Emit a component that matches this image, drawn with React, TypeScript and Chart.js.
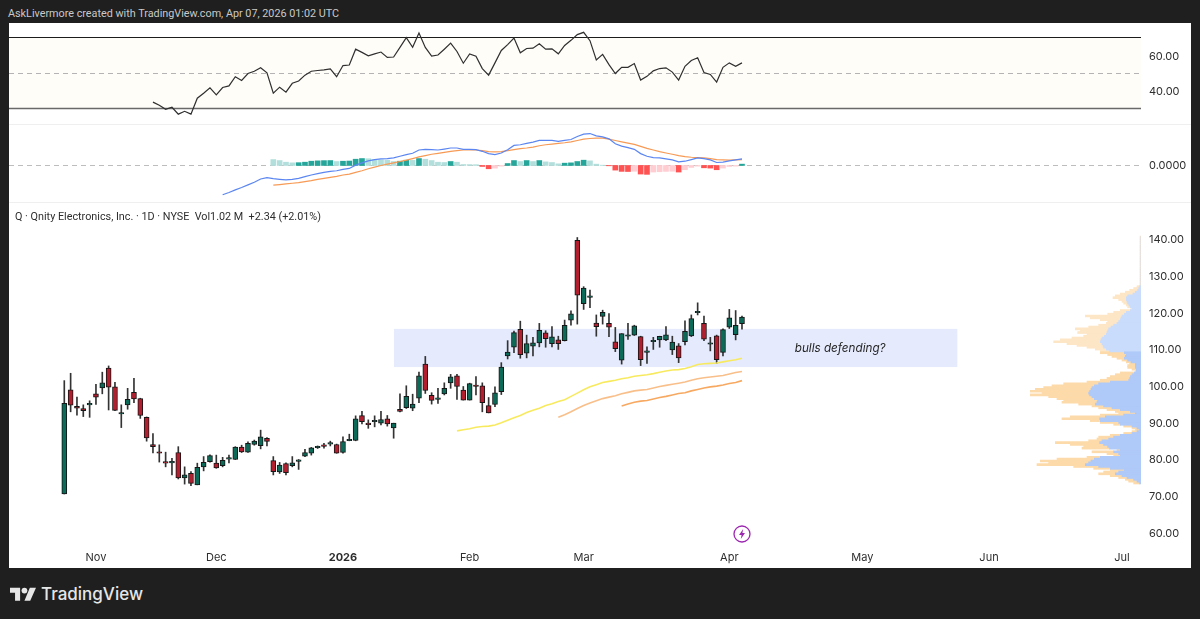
import { Chart, registerables } from "chart.js";
import { useEffect, useRef } from "react";

Chart.register(...registerables);

// Daily candles
const opens = [70.5,98.9,94.4,93.8,94.8,97.8,99.4,104.8,99.7,92.3,94.8,98.2,96.5,91.4,84.0,81.8,79.3,79.0,81.8,74.9,76.1,73.0,77.9,79.3,78.9,78.2,80.0,79.9,83.3,81.9,84.0,83.7,85.7,79.6,76.5,78.8,78.2,79.4,80.8,81.6,83.1,83.8,84.1,84.0,81.8,85.0,85.1,91.9,89.8,90.2,89.8,91.0,88.5,93.6,94.0,93.9,96.6,105.9,97.4,96.3,97.8,100.8,102.7,98.8,96.1,100.2,100.0,94.6,94.9,98.4,108.1,110.5,115.4,108.9,110.8,111.7,114.4,111.5,112.5,112.3,117.9,139.6,122.4,124.1,117.1,118.9,117.0,112.0,107.0,113.5,113.8,113.4,109.1,112.0,112.5,112.5,109.8,110.9,112.0,113.6,119.9,117.0,111.3,113.6,109.1,116.0,113.9,116.9];
const highs = [101.4,103.4,96.9,94.8,95.9,100.4,103.7,105.4,100.9,94.8,99.3,102.0,96.6,91.5,87.0,83.9,81.9,80.2,83.4,77.9,76.6,78.9,80.7,81.2,81.1,80.5,81.1,83.4,83.8,84.7,85.2,87.9,85.9,80.7,79.1,79.0,80.7,79.9,82.7,83.2,83.6,84.3,84.9,84.1,86.1,86.8,91.8,93.0,90.7,91.8,93.0,91.9,89.8,97.8,100.0,97.7,103.7,108.0,98.1,99.3,100.8,103.1,103.1,99.8,100.7,102.5,100.8,96.8,99.7,106.3,112.3,114.9,117.6,113.8,113.2,117.0,115.0,116.1,113.5,117.9,120.4,140.4,127.0,126.1,119.3,120.6,119.7,115.9,114.2,117.0,116.5,113.5,110.6,113.2,113.5,116.1,113.5,111.5,117.7,119.3,122.6,119.0,113.2,113.8,115.5,120.8,120.5,119.0];
const lows = [70.5,92.9,92.0,91.6,91.4,94.9,97.8,93.4,93.2,88.6,93.6,95.4,91.1,84.9,81.7,79.2,77.9,75.7,74.6,73.2,72.8,73.0,76.8,79.2,77.5,77.9,79.0,79.9,81.8,81.8,83.8,82.8,83.6,75.7,76.1,75.7,77.9,77.2,80.7,81.1,82.9,83.0,83.6,81.6,81.6,85.0,85.0,89.6,88.4,88.8,89.3,89.0,85.7,92.9,93.8,93.2,95.4,97.9,95.0,95.2,97.5,99.3,96.3,96.1,96.1,97.5,92.9,92.6,94.3,97.6,107.3,109.0,107.5,107.6,108.1,110.6,110.5,110.6,109.9,112.2,116.5,116.8,120.8,121.3,113.5,116.8,113.4,109.3,105.9,112.6,113.7,105.5,106.1,109.9,110.5,112.3,108.5,106.3,111.1,113.4,119.3,112.3,109.5,106.1,108.1,115.6,112.5,115.4];
const closes = [95.2,94.7,93.9,93.2,95.0,96.9,100.8,99.6,93.3,92.5,96.3,96.4,91.9,85.8,83.4,81.6,78.9,79.4,74.9,75.7,73.4,77.8,79.1,81.0,77.6,79.7,80.4,83.3,82.0,84.3,84.9,86.1,84.8,76.6,78.4,76.3,79.0,79.7,81.8,83.1,83.4,83.5,84.3,81.6,84.8,85.2,91.0,90.2,89.4,90.5,90.8,89.6,89.8,93.0,97.1,95.0,102.7,98.7,96.0,96.6,99.3,102.4,99.8,96.1,100.6,99.8,95.4,92.6,98.1,105.1,109.2,114.5,108.5,111.5,111.7,115.1,112.8,113.3,111.5,116.5,119.6,124.7,126.6,124.4,116.1,120.0,116.0,110.1,114.2,113.9,116.3,107.1,109.3,112.3,113.5,113.9,111.9,107.6,114.8,118.3,120.2,112.7,111.6,107.1,115.3,118.5,116.5,118.7];

// Moving averages, first value sits on bar maFastStart etc.
const maFastStart = 62;
const maFast = [87.7,88.0,88.3,88.7,88.9,89.0,89.3,89.9,90.6,91.3,91.9,92.7,93.3,93.9,94.6,95.1,95.7,96.2,97.1,98.0,98.9,99.7,100.3,100.9,101.2,101.5,101.9,102.2,102.6,102.8,103.0,103.3,103.7,104.0,104.3,104.4,104.7,105.2,105.8,106.0,106.1,106.2,106.5,106.8,107.1,107.5];
const maMidStart = 78;
const maMid = [91.4,92.1,92.9,93.8,94.6,95.3,95.9,96.5,96.9,97.3,97.8,98.2,98.6,98.8,99.0,99.4,99.8,100.1,100.4,100.7,101.0,101.5,101.9,102.2,102.4,102.6,102.8,103.2,103.6,103.9];
const maSlowStart = 88;
const maSlow = [94.5,95.0,95.5,95.8,96.0,96.4,96.8,97.1,97.5,97.9,98.1,98.6,99.0,99.4,99.7,99.9,100.2,100.6,100.9,101.4];

const rsiStart = 14;
const rsi = [33.5,31.7,29.4,30.6,26.7,28.3,26.7,35.7,38.5,41.5,37.6,41.7,42.6,47.8,45.7,49.6,50.9,52.8,50.0,38.5,41.9,39.1,44.1,45.4,48.7,50.9,51.3,51.7,52.2,47.8,54.1,54.4,63.3,61.5,59.6,60.7,61.7,58.7,58.9,64.3,69.8,64.4,72.4,64.3,59.4,60.0,63.3,66.7,62.0,55.4,60.6,59.3,52.4,48.7,55.6,62.6,65.9,69.6,61.3,63.7,63.9,66.3,63.3,63.5,60.7,65.4,68.3,71.5,72.8,68.1,57.2,60.4,54.6,49.6,53.1,53.1,55.2,45.9,48.0,51.1,52.4,52.8,50.4,45.9,53.7,56.9,58.5,50.2,49.1,44.8,53.1,55.6,53.7,55.6];

const macdStart = 25;
const macd = [-6.59,-6.07,-5.48,-4.96,-4.37,-3.78,-3.04,-2.74,-2.96,-3.11,-3.26,-3.11,-2.89,-2.52,-2.15,-1.85,-1.56,-1.33,-1.19,-0.89,-0.67,0.07,0.59,1.04,1.33,1.48,1.56,1.70,2.07,2.44,2.74,3.48,3.63,3.56,3.48,3.70,3.93,3.93,3.63,3.63,3.56,3.19,2.67,2.44,2.81,3.56,4.52,4.67,4.96,5.26,5.63,5.63,5.63,5.41,5.63,5.85,6.52,7.04,7.19,6.67,6.44,6.00,4.89,4.37,4.00,3.63,2.67,2.07,1.78,1.70,1.48,1.26,0.81,0.96,1.33,1.70,1.56,1.26,0.67,0.74,1.04,1.26,1.48];
const signalStart = 33;
const signal = [-4.44,-4.30,-4.15,-4.00,-3.85,-3.63,-3.41,-3.11,-2.89,-2.67,-2.44,-2.15,-1.93,-1.56,-1.19,-0.74,-0.37,0.00,0.30,0.59,0.89,1.19,1.56,1.93,2.22,2.52,2.74,2.96,3.19,3.33,3.48,3.48,3.48,3.33,3.11,3.04,3.11,3.33,3.56,3.78,3.93,4.15,4.44,4.67,4.81,4.96,5.11,5.33,5.63,5.93,6.07,6.15,6.15,5.93,5.63,5.33,5.04,4.74,4.30,3.85,3.48,3.11,2.81,2.52,2.22,2.00,1.85,1.78,1.70,1.56,1.33,1.26,1.19,1.26,1.33];
const histogram = [1.33,1.11,0.74,0.59,0.63,0.74,0.96,1.04,1.09,1.11,0.89,0.96,1.00,1.41,1.56,1.52,1.30,1.26,1.19,0.89,0.96,1.19,1.15,1.56,1.41,1.11,0.74,0.67,0.89,0.74,0.22,0.20,0.18,-0.22,-0.74,-0.60,-0.15,0.44,1.11,0.89,1.11,0.89,1.11,0.81,0.67,0.37,0.52,0.59,0.89,1.19,1.04,0.30,0.07,-0.07,-1.04,-1.33,-1.36,-1.30,-1.93,-2.00,-1.48,-1.41,-1.33,-1.30,-1.48,-0.96,-0.44,-0.15,-0.52,-0.59,-0.96,-0.59,-0.22,-0.15,0.30];

// Volume profile rows, top row first, half a dollar apart
const profileTop = 140.5;
const profileStep = 0.5;
const profileUp = [0,0,0,0,0,0,0,0,0,0,0,0,0,0,0,0,0,0,0,0,0,0,0,0,0,0,0,4,7,10,17,24,40,44,44,42,40,36,32,26,32,44,50,57,60,62,67,72,82,90,97,100,102,104,110,117,120,122,117,114,112,104,94,50,44,47,50,40,30,17,17,17,14,14,20,27,32,34,37,92,127,140,147,150,154,157,154,147,140,130,132,137,112,87,62,32,17,52,107,124,122,67,62,27,12,4,12,27,62,82,97,117,124,112,100,94,62,82,67,62,122,140,150,157,167,127,92,50,67,77,57,42,22,12,4];
const profileDown = [3,3,3,3,3,3,3,3,3,3,3,3,3,3,3,3,3,3,3,3,3,3,3,3,3,3,3,8,15,24,30,38,37,40,23,15,12,8,8,4,30,38,50,110,92,60,33,32,45,67,100,82,88,58,62,90,122,140,105,78,50,33,28,72,56,40,22,17,14,17,23,23,13,3,42,50,60,68,85,70,105,127,145,167,178,140,178,130,112,102,105,50,35,40,40,45,50,70,105,113,30,55,20,25,15,13,15,25,30,45,35,40,133,100,72,83,10,65,35,20,40,112,152,120,145,75,50,42,45,50,35,25,25,25,18];

const rsiTicks = [40, 60];
const macdTicks = [0];
const priceTicks = [60, 70, 80, 90, 100, 110, 120, 130, 140];
const monthTickBars = [5, 24, 44, 64, 82, 105, 126, 146, 167];
const monthTickLabels = ["Nov", "Dec", "2026", "Feb", "Mar", "Apr", "May", "Jun", "Jul"];

const FONT = "Inter, 'Noto Sans', sans-serif";
const TEXT = "#2e2e2e";
const X_MIN = -8.73;
const X_MAX = 170;

const series = (start: number, values: number[]) => values.map((y, i) => ({ x: start + i, y }));

const hiddenX = { type: "linear", display: false, min: X_MIN, max: X_MAX, offset: false };

function rightAxis(min: number, max: number, ticks: number[], digits: number, labelOffset = 0) {
    return {
        type: "linear",
        position: "right",
        min,
        max,
        border: { display: false },
        grid: { display: false, drawTicks: false },
        afterBuildTicks: (scale: any) => { scale.ticks = ticks.map((value) => ({ value })); },
        afterFit: (scale: any) => {
            scale.width = 50;
            // chart.js keeps room for the outer tick labels, we want the plot edge to edge
            scale.paddingTop = 0;
            scale.paddingBottom = 0;
        },
        ticks: {
            padding: 8,
            labelOffset,
            color: TEXT,
            font: { family: FONT, size: 11 },
            callback: (v: number) => v.toFixed(digits),
        },
    };
}

const baseOptions = {
    responsive: false,
    animation: false,
    events: [],
    layout: { padding: 0 },
    plugins: { legend: { display: false }, tooltip: { enabled: false } },
};

function hLine(chart: any, value: number, color: string, width: number, dash: number[] = []) {
    const { ctx, chartArea, scales } = chart;
    const y = Math.round(scales.y.getPixelForValue(value)) + 0.5;
    ctx.save();
    ctx.strokeStyle = color;
    ctx.lineWidth = width;
    ctx.setLineDash(dash);
    ctx.beginPath();
    ctx.moveTo(chartArea.left, y);
    ctx.lineTo(chartArea.right, y);
    ctx.stroke();
    ctx.restore();
}

const rsiBands = {
    id: "rsiBands",
    beforeDatasetsDraw(chart: any) {
        const { ctx, chartArea, scales } = chart;
        const top = scales.y.getPixelForValue(70);
        const bottom = scales.y.getPixelForValue(30);
        ctx.fillStyle = "#fffdf8";
        ctx.fillRect(chartArea.left, top, chartArea.right - chartArea.left, bottom - top);
        hLine(chart, 70, "#1c1c1c", 1);
        hLine(chart, 50, "#b4b4b4", 1, [5, 4]);
        hLine(chart, 30, "#696969", 1.5);
    },
};

const macdZero = {
    id: "macdZero",
    beforeDatasetsDraw(chart: any) {
        hLine(chart, 0, "#bdbdbd", 1, [5, 4]);
    },
};

const defendZone = {
    id: "defendZone",
    beforeDatasetsDraw(chart: any) {
        const { ctx, scales } = chart;
        const left = scales.x.getPixelForValue(52.05);
        const right = scales.x.getPixelForValue(141);
        const top = scales.y.getPixelForValue(115.5);
        const bottom = scales.y.getPixelForValue(105.1);
        ctx.fillStyle = "#e5eafc";
        ctx.fillRect(left, top, right - left, bottom - top);
        ctx.fillStyle = "#1f1f1f";
        ctx.font = `italic 11.7px ${FONT}`;
        ctx.textAlign = "center";
        ctx.textBaseline = "middle";
        ctx.fillText("bulls defending?", scales.x.getPixelForValue(122.5), scales.y.getPixelForValue(110.2));
    },
};

const rsiConfig: any = {
    type: "line",
    data: {
        datasets: [{
            data: series(rsiStart, rsi),
            borderColor: "#2f2f2f",
            borderWidth: 1.2,
            pointRadius: 0,
            tension: 0,
        }],
    },
    options: {
        ...baseOptions,
        scales: { x: hiddenX, y: rightAxis(21.16, 78.06, rsiTicks, 2, 1.5) },
    },
    plugins: [rsiBands],
};

function histColor(v: number, i: number) {
    const prev = i > 0 ? histogram[i - 1] : v + 1;
    if (v >= 0) return v > prev ? "#26a69a" : "#b2dfdb";
    return v < prev ? "#ff5252" : "#ffcdd2";
}

const macdConfig: any = {
    type: "bar",
    data: {
        datasets: [
            {
                type: "line",
                data: series(macdStart, macd),
                borderColor: "#5b86f2",
                borderWidth: 1.2,
                pointRadius: 0,
                tension: 0,
                order: 1,
            },
            {
                type: "line",
                data: series(signalStart, signal),
                borderColor: "#f79a55",
                borderWidth: 1.2,
                pointRadius: 0,
                tension: 0,
                order: 1,
            },
            {
                data: series(signalStart, histogram),
                backgroundColor: histogram.map((v, i) => histColor(v, i)),
                barThickness: 5,
                order: 2,
            },
        ],
    },
    options: {
        ...baseOptions,
        scales: { x: hiddenX, y: rightAxis(-8.22, 9.11, macdTicks, 4) },
    },
    plugins: [macdZero],
};

const PRICE_MIN = 56.6;
const PRICE_MAX = 150.08;
const upColor = "#0b6b58";
const downColor = "#b31f2e";
const candleColors = closes.map((c, i) => (c >= opens[i] ? upColor : downColor));

const maLine = (start: number, values: number[], color: string) => ({
    type: "line",
    data: series(start, values),
    borderColor: color,
    borderWidth: 1.6,
    pointRadius: 0,
    tension: 0,
    order: 1,
});

const priceConfig: any = {
    type: "bar",
    data: {
        datasets: [
            maLine(maFastStart, maFast, "#f8ea5f"),
            maLine(maMidStart, maMid, "#f9bf8a"),
            maLine(maSlowStart, maSlow, "#f7a962"),
            {
                data: highs.map((h, i) => ({ x: i, y: [lows[i], h] })),
                backgroundColor: "#333333",
                barThickness: 1,
                grouped: false,
                order: 3,
            },
            {
                data: opens.map((o, i) => ({ x: i, y: [Math.min(o, closes[i]), Math.max(o, closes[i])] })),
                backgroundColor: candleColors,
                borderColor: "#161616",
                borderWidth: 1,
                borderSkipped: false,
                barThickness: 5,
                minBarLength: 1.5,
                grouped: false,
                order: 2,
            },
        ],
    },
    options: {
        ...baseOptions,
        scales: {
            x: {
                type: "linear",
                min: X_MIN,
                max: X_MAX,
                offset: false,
                border: { display: false },
                grid: { display: false, drawTicks: false },
                afterBuildTicks: (scale: any) => { scale.ticks = monthTickBars.map((value) => ({ value })); },
                afterFit: (scale: any) => {
                    scale.height = 23;
                    scale.paddingLeft = 0;
                    scale.paddingRight = 0;
                },
                ticks: {
                    autoSkip: false,
                    maxRotation: 0,
                    padding: 6,
                    color: TEXT,
                    font: (ctx: any) => ({
                        family: FONT,
                        size: 11,
                        weight: ctx.tick && ctx.tick.label === "2026" ? "bold" : "normal",
                    }),
                    callback: (v: number) => monthTickLabels[monthTickBars.indexOf(v)],
                },
            },
            y: rightAxis(PRICE_MIN, PRICE_MAX, priceTicks, 2, 1),
        },
    },
    plugins: [defendZone],
};

const rowPrice = (i: number) => profileTop - i * profileStep;

const profileConfig: any = {
    type: "bar",
    data: {
        datasets: [
            {
                data: profileUp.map((x, i) => ({ x, y: rowPrice(i) })),
                backgroundColor: profileUp.map((_, i) => (rowPrice(i) > 109.3 ? "#cadcfb" : "#afc9f8")),
                barThickness: 2,
            },
            {
                data: profileDown.map((x, i) => ({ x, y: rowPrice(i) })),
                backgroundColor: profileDown.map((_, i) => (rowPrice(i) > 109.3 ? "#fde6c6" : "#fddaa9")),
                barThickness: 2,
            },
        ],
    },
    options: {
        ...baseOptions,
        indexAxis: "y",
        scales: {
            x: { type: "linear", display: false, stacked: true, reverse: true, min: 0, max: 423 },
            y: { type: "linear", display: false, stacked: true, min: PRICE_MIN, max: PRICE_MAX, offset: false },
        },
    },
};

function Pane({ config, left, top, width, height }: { config: any; left: number; top: number; width: number; height: number }) {
    const canvasRef = useRef<HTMLCanvasElement>(null);

    useEffect(() => {
        const chart = new Chart(canvasRef.current!, config);
        return () => chart.destroy();
    }, []);

    return <canvas ref={canvasRef} width={width} height={height} style={{ position: "absolute", left, top, width, height }} />;
}

export default function App() {
    return (
        <div style={{ position: "fixed", left: 0, top: 0, width: 1200, height: 619, overflow: "hidden", background: "#1f1f1f", fontFamily: FONT }}>
            <div style={{ position: "absolute", left: 8, top: 6.5, fontFamily: "Roboto, sans-serif", fontSize: 10.8, lineHeight: "14px", color: "#c9c9c9", whiteSpace: "nowrap" }}>
                AskLivermore created with TradingView.com, Apr 07, 2026 01:02 UTC
            </div>
            <div style={{ position: "absolute", left: 9, top: 23, width: 1182, height: 545, background: "#ffffff" }} />
            <Pane config={rsiConfig} left={9} top={23} width={1182} height={101} />
            <div style={{ position: "absolute", left: 9, top: 124, width: 1182, height: 1, background: "#efefef" }} />
            <Pane config={macdConfig} left={9} top={125} width={1182} height={77} />
            <div style={{ position: "absolute", left: 9, top: 202, width: 1182, height: 1, background: "#efefef" }} />
            <Pane config={priceConfig} left={9} top={202} width={1182} height={366} />
            <Pane config={profileConfig} left={1000} top={202} width={141} height={343} />
            <div style={{ position: "absolute", left: 15, top: 210, fontFamily: "Roboto, sans-serif", fontSize: 10.8, lineHeight: "14px", color: TEXT, whiteSpace: "pre" }}>
                {"Q · Qnity Electronics, Inc. · 1D · NYSE  Vol1.02 M  +2.34 (+2.01%)"}
            </div>
            <svg style={{ position: "absolute", left: 733, top: 525 }} width="18" height="18" viewBox="0 0 18 18">
                <circle cx="9" cy="9" r="8" fill="#ffffff" stroke="#9c27b0" strokeWidth="1.3" />
                <path d="M10.2 4 6 10h2.6L7.8 14 12 8H9.4z" fill="#9c27b0" />
            </svg>
            <svg style={{ position: "absolute", left: 10, top: 586 }} width="26" height="15" viewBox="0 0 36 20">
                <path d="M14 20H7V9H0V2h14zM28 20h-8l7.5-18H36z" fill="#e6e6e6" />
                <circle cx="20" cy="6" r="4" fill="#e6e6e6" />
            </svg>
            <div style={{ position: "absolute", left: 41, top: 583, fontSize: 17, lineHeight: "22px", fontWeight: 500, color: "#e6e6e6", whiteSpace: "nowrap" }}>
                TradingView
            </div>
        </div>
    );
}
